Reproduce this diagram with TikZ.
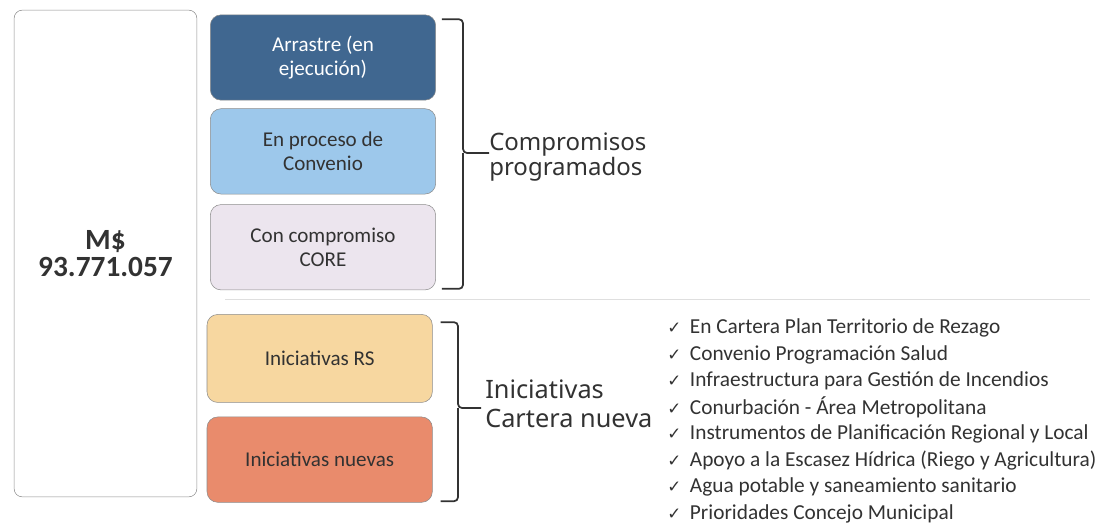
\documentclass[tikz,border=0pt]{standalone}
\usepackage{fontspec}
\setmainfont{Carlito}
\newfontfamily\labelfont{Noto Sans}
\newfontfamily\symfont{DejaVu Sans}
\usepackage{tikz}
\usetikzlibrary{positioning,calc}
\definecolor{arrastreblue}{RGB}{64,103,144}
\definecolor{procesoblue}{RGB}{157,200,235}
\definecolor{corelila}{RGB}{236,229,238}
\definecolor{rsorange}{RGB}{247,215,160}
\definecolor{nuevassalmon}{RGB}{233,139,108}
\definecolor{boxgray}{RGB}{140,140,140}
\definecolor{txtgray}{RGB}{50,50,50}
\tikzset{block/.style={draw=boxgray,rounded corners=8pt,minimum width=169pt,minimum height=64pt,
           align=center,font=\fontsize{15.8}{18}\selectfont,text=txtgray},
         total/.style={draw=boxgray,rounded corners=6pt,minimum width=137pt,minimum height=365pt,
           align=center,font=\bfseries\fontsize{22}{20}\selectfont,text=txtgray},
         group/.style={anchor=west,align=left,text=txtgray,inner sep=0pt},
         check/.style={anchor=west,inner sep=0pt,text=txtgray,font=\fontsize{16}{16}\selectfont}
}
\tikzstyle{bracket} = [line width=1.3pt,txtgray,rounded corners=3pt]
\begin{document}
\begin{tikzpicture}[x=0.75pt,y=-0.75pt]
\useasboundingbox (0,0) rectangle (1099,526);

\node[total] (monto) at (105.5,253.5) {M\$\\93.771.057};
\node[block,fill=arrastreblue,text=white] (arrastre) at (323,57.5) {Arrastre (en\\ejecución)};
\node[block,fill=procesoblue,below=6pt of arrastre] (proceso) {En proceso de\\Convenio};
\node[block,fill=corelila,below=7.5pt of proceso] (core) {Con compromiso\\CORE};
\node[block,fill=rsorange,below=18pt of core,xshift=-2.5pt,minimum height=66pt] (rs) {Iniciativas RS};
\node[block,fill=nuevassalmon,below=10.5pt of rs] (nuevas) {Iniciativas nuevas};

\draw[gray!25] (225,299) -- (1090,299);

\node[group,font=\labelfont\fontsize{18}{17}\selectfont] (programados) at (489,157) {Compromisos\\programados};
\node[group,font=\labelfont\fontsize{19}{21.5}\selectfont] (cartera) at (485,404) {Iniciativas\\Cartera nueva};

\coordinate (tipA) at (463,153);
\coordinate (tipB) at (458,408);
\draw[bracket] ([xshift=4.5pt,yshift=-3.5pt]arrastre.north east) -| (tipA) -- (tipA -| programados.west);
\draw[bracket] ([xshift=4.5pt,yshift=1pt]core.south east) -| (tipA);
\draw[bracket] ([xshift=6pt,yshift=-6pt]rs.north east) -| (tipB) -- ([xshift=-3pt]tipB -| cartera.west);
\draw[bracket] ([xshift=6pt,yshift=1pt]nuevas.south east) -| (tipB);

\foreach \txt [count=\i] in {En Cartera Plan Territorio de Rezago,
    Convenio Programación Salud,
    Infraestructura para Gestión de Incendios,
    Conurbación - Área Metropolitana,
    Instrumentos de Planificación Regional y Local,
    Apoyo a la Escasez Hídrica (Riego y Agricultura),
    Agua potable y saneamiento sanitario,
    Prioridades Concejo Municipal}
  \node[check] (item\i) at (667,328+26.5*\i-26.5) {\makebox[17pt][l]{\symfont\fontsize{12.5}{12.5}\selectfont ✓}\txt};

\end{tikzpicture}
\end{document}
